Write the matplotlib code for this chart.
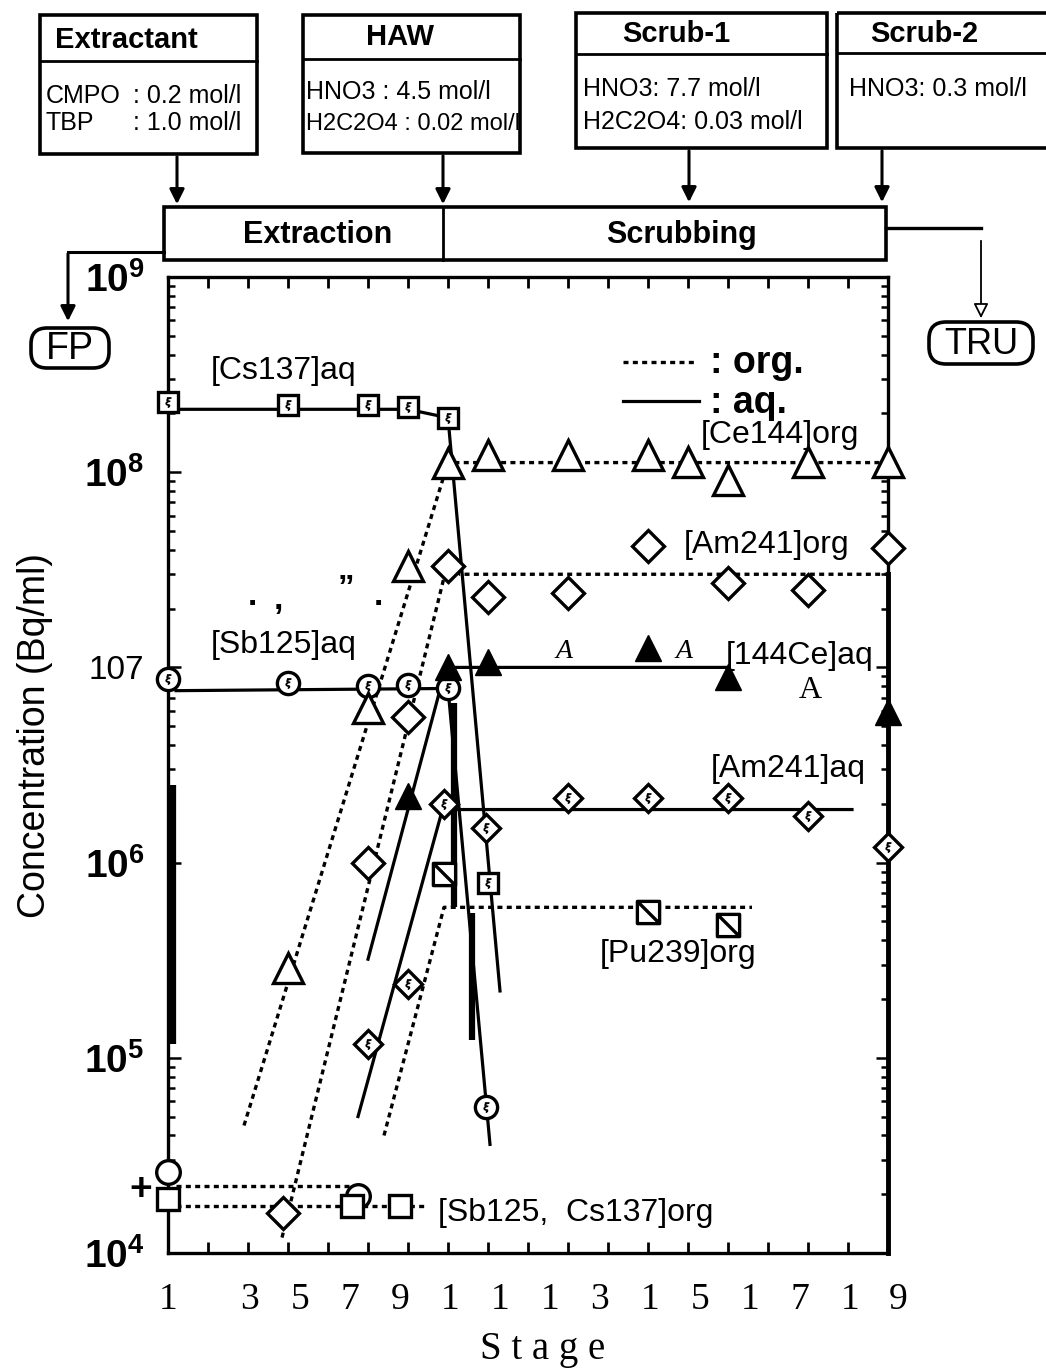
import matplotlib
matplotlib.use('Agg')
import matplotlib.pyplot as plt
from matplotlib.path import Path
from matplotlib.patches import Rectangle, FancyBboxPatch
from matplotlib.ticker import FixedLocator, LogLocator, NullFormatter

plt.rc('font', family='Liberation Sans')
plt.rc('mathtext', fontset='custom', rm='Liberation Sans', bf='Liberation Sans:bold')

W, H = 1046, 1371

# ---- data (stage, Bq/ml) ----
cs137_aq_stage = [1, 4, 6, 7, 8, 9]
cs137_aq_conc = [2.3e8, 2.2e8, 2.2e8, 2.15e8, 1.9e8, 7.9e5]
cs137_aq_line_stage = [1, 7, 8, 9.3]
cs137_aq_line_conc = [2.1e8, 2.1e8, 1.9e8, 2.2e5]

sb125_aq_stage = [1, 4, 6, 7, 8, 8.95]
sb125_aq_conc = [8.7e6, 8.3e6, 8.0e6, 8.1e6, 7.8e6, 5.6e4]
sb125_aq_line_stage = [1.2, 8, 9.05]
sb125_aq_line_conc = [7.6e6, 7.8e6, 3.6e4]

ce144_aq_stage = [7, 8, 9, 13, 15, 19]
ce144_aq_conc = [2.2e6, 1.0e7, 1.07e7, 1.26e7, 8.9e6, 5.9e6]
ce144_aq_line_stage = [6.0, 7.95, 15.0]
ce144_aq_line_conc = [3.2e5, 1.0e7, 1.0e7]

am241_aq_stage = [6, 7, 7.9, 8.95, 11, 13, 15, 17, 19]
am241_aq_conc = [1.17e5, 2.4e5, 2.0e6, 1.5e6, 2.14e6, 2.15e6, 2.14e6, 1.74e6, 1.2e6]
am241_aq_line_stage = [5.75, 7.9, 8.25, 18.1]
am241_aq_line_conc = [5.0e4, 2.0e6, 1.87e6, 1.87e6]

ce144_org_stage = [4, 6, 7, 8, 9, 11, 13, 14, 15, 17, 19]
ce144_org_conc = [2.9e5, 6.2e6, 3.3e7, 1.12e8, 1.23e8, 1.23e8, 1.23e8, 1.13e8, 9.1e7, 1.13e8, 1.13e8]
ce144_org_line_stage = [2.9, 8, 19]
ce144_org_line_conc = [4.5e4, 1.12e8, 1.12e8]

am241_org_stage = [3.87, 6, 7, 8, 9, 11, 13, 15, 17, 19]
am241_org_conc = [1.6e4, 1.0e6, 5.6e6, 3.3e7, 2.3e7, 2.4e7, 4.2e7, 2.7e7, 2.5e7, 4.1e7]
am241_org_line_stage = [3.85, 8, 8.3, 19]
am241_org_line_conc = [1.2e4, 3.5e7, 3.0e7, 3.0e7]

pu239_org_stage = [7.9, 13, 15]
pu239_org_conc = [8.7e5, 5.6e5, 4.8e5]
pu239_org_line_stage = [6.4, 7.9, 15.6]
pu239_org_line_conc = [4.0e4, 5.9e5, 5.9e5]

sb125_org_stage = [1, 5.75]
sb125_org_conc = [2.6e4, 1.95e4]
sb125_org_line_stage = [1.2, 5.7]
sb125_org_line_conc = [2.2e4, 2.2e4]

cs137_org_stage = [1, 5.6, 6.8]
cs137_org_conc = [1.9e4, 1.75e4, 1.75e4]
cs137_org_line_stage = [1.2, 7.5]
cs137_org_line_conc = [1.75e4, 1.75e4]

# heavy vertical streaks left by the scanner
scan_bars = [(1.12, 1.17e5, 2.5e6), (8.15, 5.9e5, 6.6e6), (8.6, 1.24e5, 5.5e5)]

stage_label_pos = [1, 3.05, 4.3, 5.55, 6.8, 8.05, 9.3, 10.55, 11.8, 13.05, 14.3, 15.55, 16.8, 18.05, 19.25]
stage_labels = ['1', '3', '5', '7', '9', '1', '1', '1', '3', '1', '5', '1', '7', '1', '9']
conc_ticks = [1e4, 1e5, 1e6, 1e7, 1e8, 1e9]
conc_labels = [r'$\mathbf{10^{4}}$', r'$\mathbf{10^{5}}$', r'$\mathbf{10^{6}}$', '107',
               r'$\mathbf{10^{8}}$', r'$\mathbf{10^{9}}$']

fig = plt.figure(figsize=(W / 100, H / 100), dpi=100)

# ---- flow sheet on top, in pixel units ----
fc = fig.add_axes([0, 0, 1, 1], zorder=0)
fc.set_xlim(0, W)
fc.set_ylim(H, 0)
fc.axis('off')

LW = 2.6
HEAD = 21
BODY = 18


def box(x0, y0, x1, y1, ydiv=None):
    fc.add_patch(Rectangle((x0, y0), x1 - x0, y1 - y0, fill=False, lw=LW, ec='k'))
    if ydiv is not None:
        fc.plot([x0, x1], [ydiv, ydiv], color='k', lw=2)


def arrow(x, y0, y1, open_head=False):
    if open_head:
        props = dict(arrowstyle='-|>', lw=1.3, color='k', fc='white', mutation_scale=22)
    else:
        props = dict(arrowstyle='-|>', lw=2.2, color='k', mutation_scale=22)
    fc.annotate('', xy=(x, y1), xytext=(x, y0), arrowprops=props)


box(40, 15, 257, 154, 61)
fc.text(55, 40, 'Extractant', fontsize=HEAD, fontweight='bold', va='center')
fc.text(46, 96, 'CMPO', fontsize=BODY, va='center')
fc.text(133, 96, ': 0.2 mol/l', fontsize=BODY, va='center')
fc.text(46, 123, 'TBP', fontsize=BODY, va='center')
fc.text(133, 123, ': 1.0 mol/l', fontsize=BODY, va='center')

box(303, 15, 520, 153, 59)
fc.text(400, 37, 'HAW', fontsize=HEAD, fontweight='bold', va='center', ha='center')
fc.text(306, 92, 'HNO3 : 4.5 mol/l', fontsize=BODY, va='center')
fc.text(306, 124, 'H2C2O4 : 0.02 mol/l', fontsize=17, va='center')

box(576, 13, 827, 148, 54)
fc.text(676, 34, 'Scrub-1', fontsize=HEAD, fontweight='bold', va='center', ha='center')
fc.text(583, 89, 'HNO3: 7.7 mol/l', fontsize=BODY, va='center')
fc.text(583, 122, 'H2C2O4: 0.03 mol/l', fontsize=BODY, va='center')

box(837, 13, 1060, 148, 53)
fc.text(924, 34, 'Scrub-2', fontsize=HEAD, fontweight='bold', va='center', ha='center')
fc.text(849, 89, 'HNO3: 0.3 mol/l', fontsize=BODY, va='center')

arrow(177, 154, 207)
arrow(443, 153, 207)
arrow(689, 148, 205)
arrow(882, 148, 205)

box(164, 207, 886, 260)
fc.plot([443, 443], [207, 260], color='k', lw=2)
fc.text(318, 235, 'Extraction', fontsize=22, fontweight='bold', va='center', ha='center')
fc.text(681, 235, 'Scrubbing', fontsize=22, fontweight='bold', va='center', ha='center')

fc.plot([164, 68], [252, 252], color='k', lw=2.2)
arrow(68, 251, 324)
fc.add_patch(FancyBboxPatch((31, 328), 78, 40, boxstyle='round,pad=0,rounding_size=16',
                            fill=False, lw=LW, ec='k'))
fc.text(70, 349, 'FP', fontsize=27, va='center', ha='center')

fc.plot([886, 981], [228, 228], color='k', lw=2.4)
arrow(981, 238, 321, open_head=True)
fc.add_patch(FancyBboxPatch((929, 322), 104, 42, boxstyle='round,pad=0,rounding_size=17',
                            fill=False, lw=LW, ec='k'))
fc.text(981, 344, 'TRU', fontsize=26, va='center', ha='center')

# ---- concentration profile ----
ax = fig.add_axes([168 / W, 1 - 1253 / H, 720 / W, 976 / H], zorder=1)
ax.patch.set_alpha(0)
ax.set_yscale('log')
ax.set_xlim(1, 19)
ax.set_ylim(1e4, 1e9)

dotted = dict(color='k', lw=2.4, linestyle=(0, (1.5, 1.3)))
solid = dict(color='k', lw=2.3)

ax.plot(cs137_aq_line_stage, cs137_aq_line_conc, **solid)
ax.plot(sb125_aq_line_stage, sb125_aq_line_conc, **solid)
ax.plot(ce144_aq_line_stage, ce144_aq_line_conc, **solid)
ax.plot(am241_aq_line_stage, am241_aq_line_conc, **solid)
ax.plot(ce144_org_line_stage, ce144_org_line_conc, **dotted)
ax.plot(am241_org_line_stage, am241_org_line_conc, **dotted)
ax.plot(pu239_org_line_stage, pu239_org_line_conc, **dotted)
ax.plot(sb125_org_line_stage, sb125_org_line_conc, **dotted)
ax.plot(cs137_org_line_stage, cs137_org_line_conc, **dotted)

for st, lo, hi in scan_bars:
    ax.plot([st, st], [lo, hi], color='k', lw=4.5, solid_capstyle='butt')
ax.plot([19, 19], [1e4, 3.0e7], color='k', lw=3.5, clip_on=False)

slash_sq = Path([(-1, -1), (1, -1), (1, 1), (-1, 1), (-1, -1), (-1, 1), (1, -1)],
                [Path.MOVETO, Path.LINETO, Path.LINETO, Path.LINETO, Path.CLOSEPOLY,
                 Path.MOVETO, Path.LINETO])

mk = dict(ls='none', mec='k', mfc='white', mew=2.4, clip_on=False, zorder=5)
ax.plot(cs137_aq_stage, cs137_aq_conc, marker='s', ms=15, **mk)
ax.plot(sb125_aq_stage, sb125_aq_conc, marker='o', ms=16, **mk)
ax.plot(am241_aq_stage, am241_aq_conc, marker='D', ms=14, **mk)
for xs, ys in [(cs137_aq_stage, cs137_aq_conc), (sb125_aq_stage, sb125_aq_conc),
               (am241_aq_stage, am241_aq_conc)]:
    ax.plot(xs, ys, ls='none', marker=r'$\xi$', ms=7, mec='k', mfc='k', mew=0.6,
            clip_on=False, zorder=6)
ax.plot(ce144_aq_stage, ce144_aq_conc, marker='^', ms=19, ls='none', mec='k', mfc='k',
        clip_on=False, zorder=5)
ax.plot(ce144_org_stage, ce144_org_conc, marker='^', ms=21, **mk)
ax.plot(am241_org_stage, am241_org_conc, marker='D', ms=16, **mk)
ax.plot(pu239_org_stage, pu239_org_conc, marker=slash_sq, ms=16, **mk)
ax.plot(sb125_org_stage, sb125_org_conc, marker='o', ms=17, **mk)
ax.plot(cs137_org_stage, cs137_org_conc, marker='s', ms=16, **mk)

lab = dict(fontsize=23, va='center')
ax.text(3.9, 3.3e8, '[Cs137]aq', ha='center', **lab)
ax.text(3.9, 1.3e7, '[Sb125]aq', ha='center', **lab)
ax.text(16.3, 1.55e8, '[Ce144]org', ha='center', **lab)
ax.text(13.9, 4.25e7, '[Am241]org', ha='left', **lab)
ax.text(14.95, 1.15e7, '[144Ce]aq', ha='left', **lab)
ax.text(16.5, 3.0e6, '[Am241]aq', ha='center', **lab)
ax.text(13.75, 3.4e5, '[Pu239]org', ha='center', **lab)
ax.text(7.75, 1.6e4, '[Sb125,  Cs137]org', ha='left', **lab)
ax.text(10.9, 1.2e7, 'A', fontsize=20, family='Liberation Serif', style='italic',
        ha='center', va='center')
ax.text(13.9, 1.2e7, 'A', fontsize=20, family='Liberation Serif', style='italic',
        ha='center', va='center')
ax.text(17.05, 7.6e6, 'A', fontsize=23, family='Liberation Serif', ha='center', va='center')
ax.text(3.1, 2.3e7, '.', fontsize=24, fontweight='bold', ha='center', va='center')
ax.text(3.75, 2.2e7, ',', fontsize=24, fontweight='bold', ha='center', va='center')
ax.text(5.45, 2.5e7, '\u201d', fontsize=24, fontweight='bold', ha='center', va='center')
ax.text(6.25, 2.3e7, '.', fontsize=24, fontweight='bold', ha='center', va='center')

# legend drawn by hand like the original
ax.plot([0.632, 0.735], [0.913, 0.913], transform=ax.transAxes, **dotted)
ax.plot([0.632, 0.738], [0.873, 0.873], transform=ax.transAxes, **solid)
ax.text(0.753, 0.912, ': org.', transform=ax.transAxes, fontsize=27, fontweight='bold',
        va='center')
ax.text(0.753, 0.871, ': aq.', transform=ax.transAxes, fontsize=27, fontweight='bold',
        va='center')

fig.text(141 / W, 1 - 1190 / H, '+', fontsize=28, fontweight='bold', ha='center', va='center')

for s in ax.spines.values():
    s.set_linewidth(2.4)

ax.set_yticks(conc_ticks, conc_labels)
ax.yaxis.set_minor_locator(LogLocator(base=10, subs=range(2, 10)))
ax.yaxis.set_minor_formatter(NullFormatter())
ax.tick_params(axis='y', which='both', direction='in', left=True, right=True, width=1.8)
ax.tick_params(axis='y', which='major', length=9, labelsize=28, pad=17)
ax.tick_params(axis='y', which='minor', length=5)
for t in ax.get_yticklabels():
    if t.get_text() == '107':
        t.set_fontsize(24)

# stage tick marks every stage; the scanned numbering is placed as text
ax.set_xticks([])
ax.xaxis.set_minor_locator(FixedLocator(range(1, 20)))
ax.tick_params(axis='x', which='minor', direction='in', top=True, bottom=True,
               length=8, width=2)
for pos, txt in zip(stage_label_pos, stage_labels):
    ax.text(pos, -0.048, txt, transform=ax.get_xaxis_transform(), family='Liberation Serif',
            fontsize=27, ha='center', va='center', clip_on=False)

fig.text(543 / W, 1 - 1350 / H, 'S t a g e', family='Liberation Serif', fontsize=28,
         ha='center', va='center')
fig.text(35 / W, 1 - 735 / H, 'Concentration (Bq/ml)', fontsize=27, rotation=90,
         ha='center', va='center')

fig.savefig('out.png', dpi=100)
